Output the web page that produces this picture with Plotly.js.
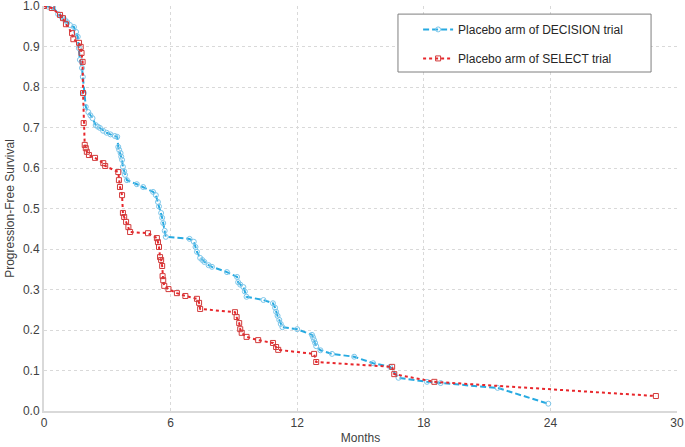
<!DOCTYPE html>
<html>
<head>
<meta charset="utf-8">
<script src="https://cdn.plot.ly/plotly-3.0.1.min.js"></script>
<style>html,body{margin:0;padding:0;background:#fff;}#chart{width:685px;height:447px;}</style>
</head>
<body>
<div id="chart"></div>
<script>
var seriesNames = ["Placebo arm of DECISION trial", "Placebo arm of SELECT trial"];
var decisionMonths = [0,0.2,0.43,0.67,0.85,1.0,1.1,1.23,1.42,1.52,1.6,1.65,1.7,1.8,1.84,1.89,1.98,2.1,2.2,2.3,2.45,2.55,2.65,2.8,2.97,3.15,3.36,3.47,3.52,3.56,3.63,3.66,3.7,3.74,3.8,3.84,3.93,4.4,4.7,5.17,5.3,5.4,5.45,5.55,5.6,5.65,5.72,5.77,6.9,7.1,7.18,7.25,7.4,7.5,7.6,7.8,7.96,8.67,9.15,9.2,9.3,9.45,9.52,9.6,10.4,10.85,10.95,11.0,11.07,11.15,11.22,11.3,12.0,12.7,12.75,12.8,12.85,12.9,13.1,13.65,14.7,15.6,16.4,16.8,18.15,18.8,21.5,23.9];
var decisionPFS = [1.0,0.998,0.997,0.98,0.972,0.965,0.96,0.953,0.948,0.936,0.924,0.896,0.867,0.847,0.825,0.785,0.751,0.738,0.73,0.723,0.706,0.702,0.699,0.692,0.687,0.683,0.679,0.677,0.652,0.645,0.637,0.628,0.62,0.603,0.592,0.583,0.570,0.560,0.553,0.541,0.533,0.516,0.505,0.489,0.477,0.464,0.445,0.430,0.425,0.418,0.405,0.393,0.378,0.373,0.368,0.36,0.356,0.343,0.331,0.318,0.312,0.306,0.295,0.282,0.274,0.266,0.255,0.245,0.235,0.225,0.215,0.207,0.202,0.188,0.182,0.175,0.168,0.160,0.150,0.141,0.134,0.118,0.109,0.082,0.072,0.069,0.057,0.018];
var selectMonths = [0,0.37,0.76,0.9,1.04,1.33,1.39,1.66,1.74,1.78,1.83,1.85,1.88,1.93,1.98,2.03,2.13,2.42,2.81,2.9,3.52,3.55,3.6,3.7,3.74,3.8,3.89,4.0,4.08,4.93,5.35,5.4,5.45,5.5,5.55,5.6,5.62,5.65,5.7,5.9,6.3,6.7,7.25,7.35,7.4,9.05,9.13,9.25,9.3,9.37,9.6,10.15,10.85,11.0,11.1,12.8,12.9,16.5,16.6,18.5,29.0];
var selectPFS = [1.0,0.995,0.978,0.97,0.955,0.933,0.918,0.909,0.899,0.884,0.862,0.785,0.711,0.657,0.649,0.640,0.632,0.625,0.612,0.605,0.590,0.570,0.553,0.533,0.489,0.479,0.467,0.454,0.442,0.439,0.427,0.417,0.405,0.380,0.373,0.358,0.333,0.323,0.309,0.301,0.291,0.284,0.277,0.267,0.252,0.244,0.232,0.217,0.202,0.193,0.183,0.175,0.168,0.158,0.151,0.141,0.121,0.109,0.091,0.072,0.037];
var xTicks = [0,6,12,18,24,30];
var yTicks = [0,0.1,0.2,0.3,0.4,0.5,0.6,0.7,0.8,0.9,1.0];

var traces = [
  {x: decisionMonths, y: decisionPFS, name: seriesNames[0], type: 'scatter', mode: 'lines+markers',
   legendgroup: 'a',
   line: {color: '#27aae1', width: 2, dash: '6px,3px'},
   marker: {symbol: 'circle-open', size: 5, color: '#7cc6ea', line: {width: 1, color: '#7cc6ea'}}},
  {x: selectMonths, y: selectPFS, name: seriesNames[1], type: 'scatter', mode: 'lines+markers',
   legendgroup: 'b',
   line: {color: '#e8262b', width: 2, dash: 'dot'},
   marker: {symbol: 'square-open', size: 5, color: '#d23a3a', line: {width: 1, color: '#d23a3a'}}}
];

var gridCol = '#d9d9d9';
var layout = {
  width: 685, height: 447,
  margin: {l: 44, r: 8, t: 6, b: 36},
  paper_bgcolor: '#fff', plot_bgcolor: '#fff',
  font: {family: '"Liberation Sans", Arial, sans-serif', size: 12, color: '#404040'},
  showlegend: true,
  xaxis: {
    range: [0, 30], tickvals: xTicks, ticktext: xTicks.map(String),
    showgrid: true, gridcolor: gridCol, griddash: '3px,3px', gridwidth: 1,
    zeroline: false, showline: true, linecolor: '#d9d9d9', linewidth: 2,
    ticks: '', tickfont: {size: 12, color: '#404040'}, ticklabeloverflow: 'allow',
    title: {text: 'Months', font: {size: 12, color: '#404040'}, standoff: 4},
    automargin: false
  },
  yaxis: {
    range: [0, 1.0], tickvals: yTicks, ticktext: yTicks.map(function(v){return v.toFixed(1);}),
    showgrid: true, gridcolor: gridCol, griddash: '3px,3px', gridwidth: 1,
    zeroline: false, showline: true, linecolor: '#d9d9d9', linewidth: 2,
    ticks: '', tickfont: {size: 12, color: '#404040'}, ticklabeloverflow: 'allow',
    title: {text: 'Progression-Free Survival', font: {size: 12, color: '#404040'}, standoff: 6},
    automargin: false
  },
  legend: {
    x: 0.591, y: 0.978, xanchor: 'left', yanchor: 'top',
    bgcolor: 'rgba(0,0,0,0)', borderwidth: 0,
    traceorder: 'grouped', tracegroupgap: 10,
    font: {size: 12, color: '#262626'}, itemwidth: 30
  },
  shapes: [{
    type: 'rect', xref: 'paper', yref: 'paper',
    x0: 0.5592, x1: 0.959, y0: 0.837, y1: 0.980,
    fillcolor: '#ffffff', line: {color: '#7f7f7f', width: 1}, layer: 'above'
  }]
};
Plotly.newPlot('chart', traces, layout, {displayModeBar: false, staticPlot: true});
</script>
</body>
</html>
